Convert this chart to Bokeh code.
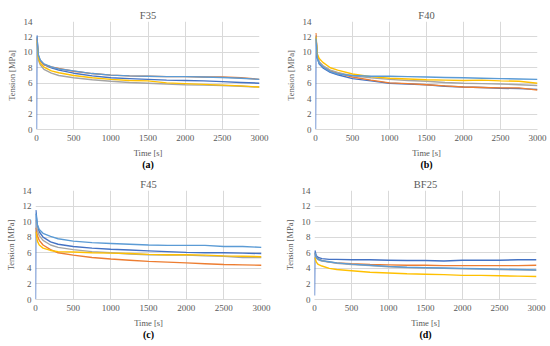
from bokeh.plotting import figure
from bokeh.layouts import column, row
from bokeh.models import Range1d, SingleIntervalTicker, Title
from bokeh.embed import file_html
from bokeh.resources import INLINE

# ---------------- data ----------------
time_s = [0, 5, 25, 50, 100, 200, 300, 500, 750, 1000, 1250, 1500, 1750, 2000, 2250, 2500, 2750, 3000]

# F35
a_blue      = [0.0, 12.2, 9.6, 8.9, 8.4, 8.0, 7.7, 7.3, 6.95, 6.7, 6.6, 6.5, 6.4, 6.35, 6.3, 6.2, 6.1, 6.0]
a_orange    = [11.5, 11.8, 9.5, 8.9, 8.4, 8.1, 7.9, 7.55, 7.25, 7.05, 6.95, 6.9, 6.85, 6.85, 6.8, 6.8, 6.7, 6.5]
a_gray      = [11.0, 11.2, 9.0, 8.4, 7.8, 7.3, 7.0, 6.7, 6.45, 6.25, 6.1, 6.0, 5.9, 5.8, 5.75, 5.7, 5.6, 5.5]
a_yellow    = [11.2, 11.5, 9.3, 8.6, 8.1, 7.6, 7.35, 7.0, 6.7, 6.5, 6.35, 6.3, 6.05, 5.95, 5.85, 5.75, 5.65, 5.5]
a_lightblue = [11.8, 12.0, 9.7, 9.0, 8.5, 8.1, 7.85, 7.6, 7.25, 7.05, 6.95, 6.9, 6.85, 6.85, 6.8, 6.75, 6.65, 6.5]

# F40
b_blue      = [0.0, 12.2, 9.3, 8.5, 8.0, 7.4, 7.1, 6.6, 6.3, 6.0, 5.9, 5.8, 5.6, 5.5, 5.45, 5.35, 5.3, 5.2]
b_orange    = [12.3, 12.5, 9.5, 8.7, 8.2, 7.6, 7.3, 6.8, 6.4, 6.05, 5.95, 5.8, 5.65, 5.5, 5.45, 5.4, 5.4, 5.1]
b_gray      = [11.8, 12.0, 9.6, 8.8, 8.3, 7.7, 7.4, 6.95, 6.7, 6.5, 6.35, 6.25, 6.1, 6.0, 5.95, 5.9, 5.8, 5.7]
b_yellow    = [11.8, 12.0, 9.8, 9.2, 8.7, 8.0, 7.7, 7.2, 6.85, 6.65, 6.55, 6.45, 6.4, 6.35, 6.4, 6.3, 6.25, 6.0]
b_lightblue = [11.5, 11.8, 9.2, 8.6, 8.1, 7.5, 7.2, 7.0, 6.9, 6.9, 6.85, 6.8, 6.75, 6.7, 6.65, 6.6, 6.55, 6.5]

# F45
c_blue      = [0.0, 11.5, 9.5, 8.7, 8.0, 7.4, 7.1, 6.8, 6.6, 6.45, 6.35, 6.25, 6.15, 6.05, 6.0, 6.0, 5.95, 5.9]
c_orange    = [9.0, 9.2, 8.2, 7.6, 7.0, 6.4, 6.0, 5.7, 5.4, 5.2, 5.05, 4.9, 4.8, 4.7, 4.6, 4.5, 4.45, 4.4]
c_gray      = [10.0, 10.2, 8.9, 8.2, 7.6, 7.0, 6.7, 6.4, 6.15, 6.0, 5.85, 5.75, 5.7, 5.7, 5.6, 5.55, 5.4, 5.4]
c_yellow    = [8.5, 8.7, 7.5, 7.0, 6.6, 6.3, 6.15, 6.1, 6.0, 5.95, 5.9, 5.8, 5.75, 5.75, 5.7, 5.6, 5.55, 5.5]
c_lightblue = [10.8, 11.0, 9.6, 9.0, 8.5, 8.1, 7.8, 7.5, 7.3, 7.2, 7.1, 7.0, 6.95, 6.95, 6.95, 6.8, 6.8, 6.7]

# BF25
d_blue      = [0.5, 6.3, 5.6, 5.4, 5.25, 5.15, 5.15, 5.1, 5.1, 5.05, 5.0, 5.0, 4.95, 5.05, 5.05, 5.05, 5.1, 5.1]
d_orange    = [5.8, 5.9, 5.4, 5.2, 5.0, 4.8, 4.7, 4.6, 4.5, 4.45, 4.4, 4.4, 4.35, 4.35, 4.35, 4.35, 4.35, 4.4]
d_gray      = [5.8, 5.9, 5.3, 5.1, 4.95, 4.8, 4.65, 4.5, 4.35, 4.2, 4.1, 4.05, 4.0, 3.95, 3.9, 3.85, 3.8, 3.75]
d_yellow    = [5.2, 5.4, 4.8, 4.5, 4.3, 4.0, 3.85, 3.7, 3.5, 3.4, 3.3, 3.25, 3.2, 3.1, 3.1, 3.05, 3.0, 2.95]
d_lightblue = [5.9, 6.0, 5.4, 5.2, 5.0, 4.85, 4.7, 4.55, 4.4, 4.25, 4.15, 4.1, 4.05, 4.0, 3.95, 3.9, 3.85, 3.8]

titles = ["F35", "F40", "F45", "BF25"]
letters = ["(a)", "(b)", "(c)", "(d)"]
colors = ["#4472C4", "#ED7D31", "#A5A5A5", "#FFC000", "#5B9BD5"]

FONT = "Liberation Serif"
GRAY_TXT = "#595959"
GRID = "#D9D9D9"


def panel(title, letter, series, width, left, right, top, plot_h, bottom):
    p = figure(width=width, height=top + plot_h + bottom, output_backend="svg",
               toolbar_location=None, x_range=Range1d(0, 3000), y_range=Range1d(0, 14),
               min_border_left=left, min_border_right=right,
               min_border_top=top, min_border_bottom=bottom)
    p.title.text = title
    p.title.align = "center"
    p.title.text_font = FONT
    p.title.text_font_size = "10.5px"
    p.title.text_font_style = "normal"
    p.title.text_color = GRAY_TXT
    p.title.standoff = 1
    p.title.offset = 0
    p.outline_line_color = None
    p.background_fill_color = "white"
    p.border_fill_color = "white"

    for ys, c in zip(series, colors):
        p.line(time_s, ys, line_color=c, line_width=1.4)

    p.xaxis.ticker = SingleIntervalTicker(interval=500)
    p.yaxis.ticker = SingleIntervalTicker(interval=2)
    for ax in (p.xaxis, p.yaxis):
        ax.major_tick_line_color = None
        ax.minor_tick_line_color = None
        ax.major_tick_out = 0
        ax.major_tick_in = 0
        ax.minor_tick_out = 0
        ax.minor_tick_in = 0
        ax.major_label_text_font = FONT
        ax.major_label_text_font_size = "9px"
        ax.major_label_text_color = GRAY_TXT
        ax.axis_label_text_font = FONT
        ax.axis_label_text_font_size = "8.5px"
        ax.axis_label_text_font_style = "normal"
        ax.axis_label_text_color = GRAY_TXT
        ax.major_label_standoff = 5
        ax.axis_label_standoff = 4
    p.yaxis.major_label_standoff = 4
    p.xaxis.axis_line_color = GRID
    p.yaxis.axis_line_color = None
    p.xaxis.axis_label = "Time [s]"
    p.yaxis.axis_label = "Tension [MPa]"
    p.grid.grid_line_color = GRID
    p.grid.grid_line_width = 1

    p.add_layout(Title(text=letter, align="center", text_font=FONT,
                       text_font_size="10px", text_font_style="bold", text_color="black",
                       standoff=-8, offset=0), "below")
    return p


pa = panel(titles[0], letters[0], [a_blue, a_orange, a_gray, a_yellow, a_lightblue], 275, 36, 16, 19, 110, 44)
pb = panel(titles[1], letters[1], [b_blue, b_orange, b_gray, b_yellow, b_lightblue], 275, 40, 13, 21, 108, 44)
pc = panel(titles[2], letters[2], [c_blue, c_orange, c_gray, c_yellow, c_lightblue], 275, 35, 14, 15, 111, 47)
pd = panel(titles[3], letters[3], [d_blue, d_orange, d_gray, d_yellow, d_lightblue], 275, 39, 14, 17, 109, 47)

layout = column(row(pa, pb), row(pc, pd))

open("out.html", "w").write(file_html(layout, INLINE))
